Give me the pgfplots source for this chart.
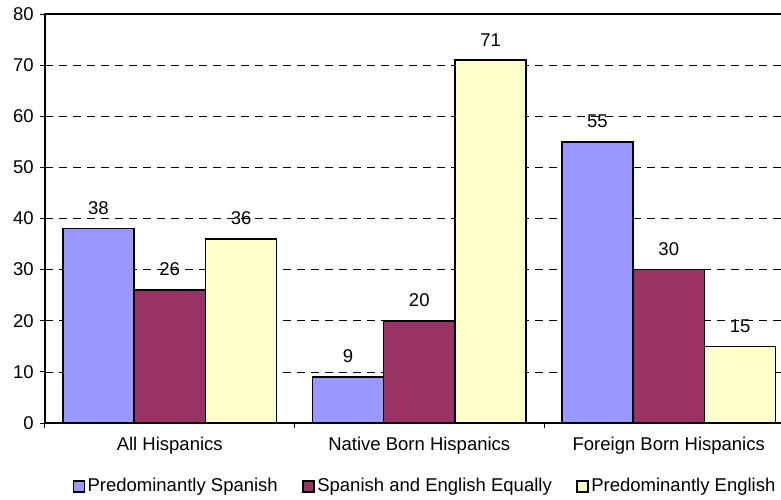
\documentclass[border=0pt]{standalone}
\usepackage{pgfplots}
\pgfplotsset{compat=1.18}
\usepackage{fontspec}
\setmainfont{Liberation Sans}

\definecolor{spanish}{HTML}{9999FF}
\definecolor{equal}{HTML}{993366}
\definecolor{english}{HTML}{FFFFCC}

\newcommand{\chartfont}{\fontsize{18.5}{22}\selectfont}

\pgfplotsset{
  sqlegend/.style={legend image code/.code={%
    \draw[##1, line width=1.5pt] (0pt,-5.5pt) rectangle (11pt,5.5pt);}},
}

\begin{document}
\chartfont
\begin{tikzpicture}
\begin{axis}[
  name=ax,
  scale only axis,
  width=748.5pt, height=409pt,
  xmin=-0.5, xmax=2.5, ymin=0, ymax=80,
  ybar=0pt, bar width=0.2858,
  ytick={0,10,...,80},
  xtick={0,1,2},
  xticklabels={All Hispanics, Native Born Hispanics, Foreign Born Hispanics},
  major x tick style={draw=none},
  extra x ticks={-0.5,0.5,1.5},
  extra x tick labels={},
  extra x tick style={major x tick style={draw=black, line width=1pt}},
  tick pos=left,
  tick align=outside,
  major tick length=5pt,
  ytick style={black, line width=1pt},
  ymajorgrids,
  major grid style={black, line width=0.7pt, dash pattern=on 8pt off 6pt},
  axis line style={black, line width=1.2pt},
  tick label style={font=\chartfont, text=black},
  xticklabel style={yshift=-3pt},
  /pgf/number format/assume math mode=true,
  nodes near coords,
  every node near coord/.append style={font=\chartfont, text=black, anchor=south, yshift=7pt},
  legend columns=3,
  legend style={draw=none, fill=none, font=\chartfont,
    at={(0.508,-0.1553)}, anchor=center,
    /tikz/every even column/.append style={column sep=22pt},
    /tikz/every odd column/.append style={column sep=0pt},
    inner sep=0pt,
    nodes={inner sep=2.5pt}},
]
\addplot[fill=spanish, draw=black, line width=1.5pt, sqlegend]
  coordinates {(0,38) (1,9) (2,55)};
\addplot[fill=equal, draw=black, line width=1.5pt, sqlegend]
  coordinates {(0,26) (1,20) (2,30)};
\addplot[fill=english, draw=black, line width=1.5pt, sqlegend]
  coordinates {(0,36) (1,71) (2,15)};
\legend{Predominantly Spanish, Spanish and English Equally, Predominantly English}
\end{axis}
\pgfresetboundingbox
\path[use as bounding box]
  ([shift={(-45pt,-76pt)}]ax.south west) rectangle ([shift={(736pt,423pt)}]ax.south west);
\end{tikzpicture}
\end{document}
